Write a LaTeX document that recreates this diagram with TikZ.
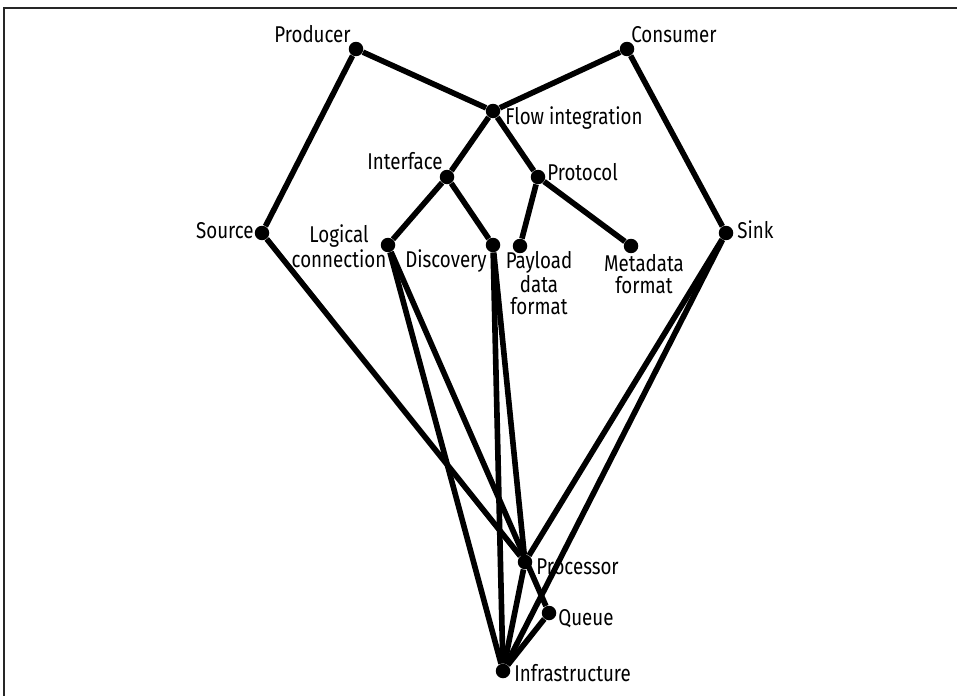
\documentclass[tikz,border=0pt]{standalone}
\usepackage{fontspec}
\setmainfont{Fira Sans}[FakeStretch=0.82]
\usetikzlibrary{positioning}

\begin{document}
\begin{tikzpicture}[
    x=0.02cm, y=-0.02cm,
    dot/.style={circle, fill=black, inner sep=0pt, minimum size=0.29cm},
    lbl/.style={inner sep=0pt, font=\fontsize{13}{12.5}\selectfont},
    edge/.style={line width=3.2pt}
]
\useasboundingbox (0,0) rectangle (957,696);

% Frame
\draw[line width=0.8pt, black!85] (4,696) -- (4,8) -- (957,8);

% Top level
\node[dot] (producer) at (356,49) {};
\node[dot] (consumer) at (627,49) {};
\node[dot] (flow) at (493,111) {};
\node[lbl, anchor=base east] (producerText) at (351,43) {Producer};
\node[lbl, anchor=base west] (consumerText) at (631,43) {Consumer};
\node[lbl, anchor=base west] (flowText) at (505,125) {Flow integration};

% Interface and protocol
\node[dot] (interface) at (447,177) {};
\node[dot] (protocol) at (538,177) {};
\node[lbl, anchor=base east] (interfaceText) at (443,170) {Interface};
\node[lbl, anchor=base west] (protocolText) at (547,180) {Protocol};

% Source and sink
\node[dot] (source) at (262,233) {};
\node[dot] (sink) at (726,233) {};
\node[lbl, anchor=base east] (sourceText) at (254,238) {Source};
\node[lbl, anchor=base west] (sinkText) at (737,238) {Sink};

% Leaves
\node[dot] (logical) at (388,245) {};
\node[dot] (discovery) at (493,245) {};
\node[dot] (payload) at (520,246) {};
\node[dot] (metadata) at (631,246) {};
\node[lbl, anchor=base, align=center] (logicalText) at (339,267) {Logical\\connection};
\node[lbl, anchor=base east] (discoveryText) at (487,267) {Discovery};
\node[lbl, anchor=base, align=center] (payloadText) at (539,314) {Payload\\data\\format};
\node[lbl, anchor=base, align=center] (metadataText) at (644,293) {Metadata\\format};

% Bottom
\node[dot] (processor) at (525,562) {};
\node[dot] (queue) at (549,613) {};
\node[dot] (infra) at (503,671) {};
\node[lbl, anchor=base west] (processorText) at (536,574) {Processor};
\node[lbl, anchor=base west] (queueText) at (558,625) {Queue};
\node[lbl, anchor=base west] (infraText) at (514,681) {Infrastructure};

% Connectors
\draw[edge] (source) -- (producer) -- (flow) -- (consumer) -- (sink);
\draw[edge] (interface) -- (flow) -- (protocol);
\draw[edge] (logical) -- (interface) -- (discovery);
\draw[edge] (payload) -- (protocol) -- (metadata);
\draw[edge] (source) -- (processor);
\draw[edge] (logical) -- (infra);
\draw[edge] (logical) -- (queue);
\draw[edge] (discovery) -- (infra);
\draw[edge] (discovery) -- (processor);
\draw[edge] (sink) -- (processor);
\draw[edge] (sink) -- (infra);
\draw[edge] (processor) -- (infra);
\draw[edge] (queue) -- (infra);

\end{tikzpicture}
\end{document}
